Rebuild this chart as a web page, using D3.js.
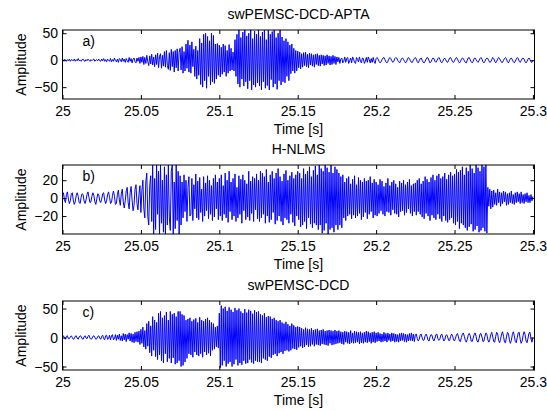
<!DOCTYPE html>
<html>
<head>
<meta charset="utf-8">
<script src="https://cdn.jsdelivr.net/npm/d3@7"></script>
<style>
  body { margin: 0; background: #fff; }
  svg { display: block; font-family: "Liberation Sans", Arial, sans-serif; }
</style>
</head>
<body>
<svg id="chart" width="547" height="411"></svg>
<script>
// Data (signal samples, 1600 Hz starting at t = 25 s)
var startTime = 25;
var sampleStep = 0.000625;

var titles = ["swPEMSC-DCD-APTA", "H-NLMS", "swPEMSC-DCD"];
var panelLabels = ["a)", "b)", "c)"];
var xTicks = [25, 25.05, 25.1, 25.15, 25.2, 25.25, 25.3];
var xTickLabels = ["25", "25.05", "25.1", "25.15", "25.2", "25.25", "25.3"];
var yTicksA = [-50, 0, 50];
var yTicksB = [-20, 0, 20];
var yTicksC = [-50, 0, 50];
var yRangeA = [-72, 56];
var yRangeB = [-40, 37];
var yRangeC = [-56, 63];

// one row = 0.025 s
var aptaValues = [
  1,-1,2,0,-2,1,-1,2,-2,1,0,-1,2,-2,1,-1,3,-1,0,-2,1,2,-1,-2,1,-1,2,0,-2,1,-1,1,2,-2,0,1,-1,2,-1,-2,
  2,-1,3,-2,1,-3,2,0,-2,3,-3,1,-2,4,-1,-3,2,-4,3,1,-3,4,-2,2,-4,3,-1,-4,5,-2,3,-5,2,4,-3,-5,4,-2,5,-6,
  6,-4,7,-8,5,-6,9,-3,-10,8,-7,11,-9,6,-12,10,-8,13,-14,7,12,-15,9,-11,16,-13,18,-10,-17,14,-19,20,-12,16,-22,18,-14,21,-20,15,
  22,-18,25,-24,16,-20,30,-15,37,-22,28,-24,34,-12,20,-30,26,-35,18,-28,40,-45,32,-50,48,-38,50,-52,44,-30,36,-46,50,-40,46,-43,30,-35,31,-28,
  28,-31,24,-26,30,-22,27,-30,18,-24,29,-20,22,-18,15,-20,38,-30,48,-44,56,-50,42,-35,52,-48,56,-40,45,-53,50,-38,56,-55,40,-46,54,-50,48,-42,
  56,-48,44,-55,52,-40,56,-52,38,-47,56,-55,48,-36,53,-50,56,-44,42,-54,50,-38,56,-46,43,-40,36,-42,40,-30,34,-38,28,-25,30,-20,22,-24,18,-20,
  17,-14,15,-16,12,-13,14,-10,15,-12,11,-14,13,-9,12,-11,10,-13,11,-8,12,-10,9,-11,10,-7,9,-10,8,-9,10,-6,8,-9,7,-8,9,-6,7,-8,
  6,-3,5,-6,2,4,-5,-2,6,-4,3,5,-6,-1,4,-5,6,2,-4,-6,5,1,-3,6,-2,-5,4,3,-6,-2,5,-4,6,1,-5,3,-4,5,-2,-6,
  3,5,2,-2,-5,-3,1,4,5,1,-3,-5,-2,2,5,3,-1,-4,-2,3,5,4,0,-3,-5,-1,3,4,1,-2,-5,-3,2,5,3,-1,-4,-4,0,3,
  5,2,-3,-5,-1,3,4,0,-4,-5,-2,2,5,4,-1,-5,-3,1,4,3,-2,-4,-1,3,5,2,-3,-5,-2,2,4,1,-3,-4,0,4,5,1,-3,-4,
  -1,3,5,2,-2,-5,-3,2,4,3,-1,-4,-5,0,4,5,1,-3,-5,-2,3,4,1,-2,-4,-1,3,5,2,-3,-5,-2,2,4,3,-1,-4,-3,1,5,
  3,-2,-5,-2,2,5,3,-1,-4,-4,0,3,5,2,-3,-5,-1,3,4,1,-3,-5,-2,2,5,3,-2,-4,-1,3,4,2,-3,-5,-2,2,4,1,-3,-4,
  0
];

var nlmsValues = [
  3,6,-2,-5,4,7,-1,-6,-3,5,6,-2,-7,-4,3,6,2,-5,-6,1,5,4,-3,-6,-2,4,7,1,-5,-4,2,6,3,-4,-7,-1,5,4,-3,-5,
  -1,5,6,-2,-6,-3,4,7,1,-6,-5,3,8,2,-7,-6,4,9,-2,-8,5,10,-4,-11,-3,8,12,-5,-12,6,13,-2,-14,-8,10,15,-6,-13,4,14,
  -16,8,20,-12,-22,18,28,-20,-30,14,25,-26,37,-40,22,-35,37,-18,30,-40,37,-28,20,-38,35,-40,26,-30,37,-22,-36,30,37,-40,18,-34,37,-25,30,-40,
  25,-30,18,-22,26,-15,20,-26,12,24,-20,-18,22,-25,15,-12,27,-22,19,-24,23,-16,10,-26,24,-20,17,-14,25,-23,20,-18,14,-25,22,-21,26,-12,18,-24,
  22,-20,26,-25,14,-18,28,-22,20,-27,30,-15,18,-24,22,-20,27,-26,12,-22,25,-18,21,-28,26,-14,20,-24,16,-21,30,-25,19,-17,24,-26,22,-13,27,-23,
  20,-26,30,-22,28,-18,24,-28,32,-20,18,-27,26,-24,30,-16,22,-29,28,-25,33,-20,24,-26,19,-30,27,-22,31,-24,20,-28,25,-18,29,-27,22,-31,26,-20,
  30,-24,28,-32,22,-30,33,-26,27,-34,30,-22,35,-29,24,-33,31,-28,36,-30,26,-35,37,-30,33,-39,30,-36,37,-28,34,-40,29,-35,37,-33,28,-38,35,-30,
  32,-35,28,-30,24,-33,26,-22,18,-25,22,-20,24,-18,16,-23,21,-19,25,-22,15,-20,23,-17,20,-24,18,-21,22,-16,19,-23,20,-18,24,-15,17,-22,21,-19,
  18,-20,15,-17,21,-14,19,-18,13,-20,17,-15,22,-16,14,-19,18,-13,20,-17,16,-18,12,-21,19,-15,17,-14,20,-19,15,-16,18,-12,21,-17,14,-20,16,-15,
  17,-19,20,-15,22,-18,16,-21,19,-23,24,-17,21,-20,18,-25,23,-19,26,-22,20,-24,25,-18,27,-23,22,-26,24,-20,28,-25,21,-27,26,-24,29,-22,25,-28,
  27,-30,32,-26,29,-34,31,-28,35,-30,26,-33,34,-36,30,-32,37,-29,33,-37,28,-35,37,-31,34,-38,30,-36,37,-33,35,-37,37,-39,12,-9,10,-12,8,-10,
  9,-7,6,-8,10,-5,7,-9,6,-6,8,-4,7,-8,5,-7,6,-5,8,-6,4,-7,6,-5,7,-4,5,-6,7,-5,4,-6,5,-4,6,-5,3,-5,4,-3,
  2
];

var dcdValues = [
  1,3,-1,-3,2,3,-2,-2,1,3,0,-3,-2,2,3,-1,-3,1,3,2,-2,-3,1,3,-1,-2,2,4,-1,-3,-2,2,3,0,-3,-2,2,3,-1,-3,
  2,4,-2,-4,3,4,-3,-2,4,-4,3,5,-4,-2,5,-5,4,-3,6,-5,3,-6,7,-4,6,-7,5,-3,8,-6,7,-8,6,-9,9,-7,10,-8,11,-12,
  14,-10,18,-16,12,-20,24,-15,28,-26,20,-32,36,-22,30,-33,26,-38,42,-30,45,-40,34,-44,38,-28,44,-42,30,-36,45,-44,40,-35,42,-46,36,-44,45,-40,
  45,-50,40,-48,38,-42,30,-36,32,-28,34,-30,28,-34,31,-25,33,-30,26,-32,35,-28,30,-34,28,-25,32,-30,34,-27,30,-32,26,-22,24,-20,18,-16,20,-18,
  42,-52,55,-48,50,-40,53,-50,46,-45,52,-42,48,-50,44,-46,51,-38,47,-48,50,-44,45,-47,42,-40,49,-45,43,-44,48,-38,46,-43,41,-45,47,-40,44,-42,
  45,-42,40,-44,38,-36,42,-38,35,-40,37,-33,36,-35,32,-30,34,-28,30,-32,28,-27,30,-25,26,-28,24,-23,27,-22,23,-24,20,-22,24,-19,21,-20,18,-21,
  19,-17,18,-15,16,-18,14,-16,17,-13,15,-16,14,-15,16,-12,13,-15,14,-12,15,-13,12,-14,13,-11,14,-12,11,-13,12,-14,13,-10,12,-13,11,-12,13,-11,
  11,-10,12,-9,10,-11,9,-12,11,-8,10,-10,9,-11,12,-9,8,-10,11,-9,10,-8,9,-11,10,-9,8,-10,9,-8,11,-9,10,-7,8,-10,9,-8,10,-9,
  8,-7,9,-6,7,-8,6,-7,9,-6,7,-8,8,-5,6,-7,8,-6,7,-8,6,-7,5,-8,7,-6,8,-5,7,-7,6,-8,5,-6,7,-5,8,-6,6,-7,
  5,6,-2,-6,-3,5,6,-1,-5,-4,3,6,2,-5,-6,1,5,4,-3,-6,-1,5,6,-2,-5,-3,4,6,0,-6,-4,3,5,1,-5,-5,2,6,3,-4,
  -6,-1,5,7,1,-6,-7,0,6,8,2,-5,-8,-3,4,7,3,-6,-7,-1,5,8,2,-6,-8,-2,6,7,1,-7,-6,2,8,5,-4,-8,-3,5,9,1,
  -7,-8,2,9,6,-5,-9,-3,6,10,2,-8,-9,1,9,7,-4,-10,-5,5,10,3,-7,-9,0,8,9,-3,-10,-6,4,10,5,-6,-9,-1,8,9,-2,-8,
  0
];

var seriesList = [aptaValues, nlmsValues, dcdValues];
var yRanges = [yRangeA, yRangeB, yRangeC];
var yTickList = [yTicksA, yTicksB, yTicksC];

// Layout
var left = 62.5, right = 534.5;
var panelTops = [30, 165, 301];
var panelHeight = 69;
var fontSize = 14;

var svg = d3.select("#chart");
svg.append("rect").attr("width", 547).attr("height", 411).attr("fill", "#fff");

var x = d3.scaleLinear().domain([25, 25.301]).range([left, right]);

seriesList.forEach(function(values, i) {
  var top = panelTops[i], bottom = top + panelHeight;
  var y = d3.scaleLinear().domain(yRanges[i]).range([bottom, top]);
  var g = svg.append("g");

  g.append("clipPath").attr("id", "clip" + i)
    .append("rect")
    .attr("x", left).attr("y", top)
    .attr("width", right - left).attr("height", panelHeight);

  // signal
  g.append("path")
    .attr("clip-path", "url(#clip" + i + ")")
    .attr("fill", "none")
    .attr("stroke", "#0000ff")
    .attr("stroke-width", 1)
    .attr("d", d3.line()
      .x(function(d, k) { return x(startTime + k * sampleStep); })
      .y(function(d) { return y(d); })
      (values));

  // axes
  g.append("g")
    .attr("transform", "translate(0," + bottom + ")")
    .call(d3.axisBottom(x).tickValues(xTicks)
      .tickFormat(function(d, k) { return xTickLabels[k]; })
      .tickSizeInner(-4).tickSizeOuter(0).tickPadding(7.5));
  g.append("g")
    .attr("transform", "translate(0," + top + ")")
    .call(d3.axisTop(x).tickValues(xTicks).tickFormat("")
      .tickSizeInner(-4).tickSizeOuter(0));
  g.append("g")
    .attr("transform", "translate(" + left + ",0)")
    .call(d3.axisLeft(y).tickValues(yTickList[i])
      .tickSizeInner(-4).tickSizeOuter(0).tickPadding(4.5));
  g.append("g")
    .attr("transform", "translate(" + right + ",0)")
    .call(d3.axisRight(y).tickValues(yTickList[i]).tickFormat("")
      .tickSizeInner(-4).tickSizeOuter(0));

  g.selectAll(".domain").remove();
  g.selectAll(".tick line").attr("stroke", "#000");
  g.selectAll(".tick text")
    .attr("fill", "#000")
    .style("font-size", fontSize + "px")
    .style("font-family", "'Liberation Sans', Arial, sans-serif");

  // box
  g.append("rect")
    .attr("x", left).attr("y", top)
    .attr("width", right - left).attr("height", panelHeight)
    .attr("fill", "none").attr("stroke", "#000").attr("stroke-width", 1);

  // titles and labels
  g.append("text")
    .attr("x", (left + right) / 2).attr("y", top - 11)
    .attr("text-anchor", "middle")
    .style("font-size", fontSize + "px")
    .text(titles[i]);
  g.append("text")
    .attr("x", (left + right) / 2).attr("y", bottom + 35)
    .attr("text-anchor", "middle")
    .style("font-size", fontSize + "px")
    .text("Time [s]");
  g.append("text")
    .attr("transform", "translate(26," + (top + panelHeight / 2) + ") rotate(-90)")
    .attr("text-anchor", "middle")
    .style("font-size", fontSize + "px")
    .text("Amplitude");
  g.append("text")
    .attr("x", left + 20).attr("y", top + 16)
    .style("font-size", fontSize + "px")
    .text(panelLabels[i]);
});
</script>
</body>
</html>
